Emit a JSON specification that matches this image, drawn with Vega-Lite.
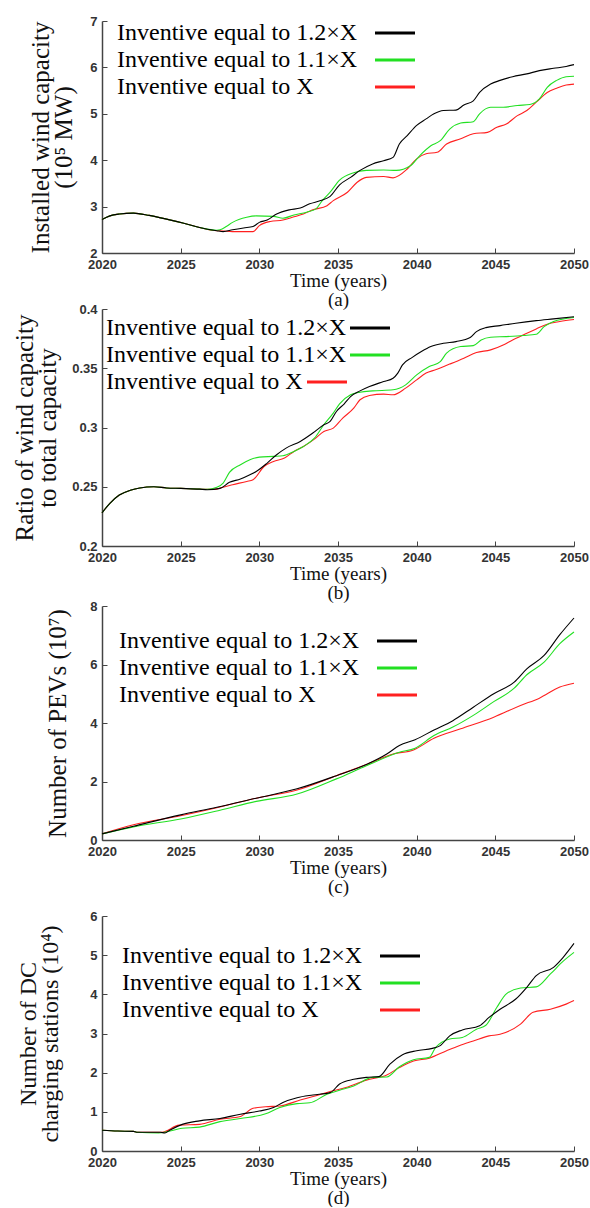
{
  "$schema": "https://vega.github.io/schema/vega-lite/v6.json",
  "padding": {"left": 12, "top": 15, "right": 0, "bottom": 0},
  "spacing": -2,
  "resolve": {"scale": {"color": "independent", "x": "independent", "y": "independent"}, "legend": {"color": "independent"}},
  "vconcat": [
    {
      "spacing": -12,
      "resolve": {"scale": {"color": "independent", "x": "independent", "y": "independent"}, "legend": {"color": "independent"}},
      "vconcat": [
        {
          "width": 472,
          "height": 232,
          "data": {"values": [
            {"s":"X","t":2020,"v":2.72},{"s":"X","t":2020.5,"v":2.80},{"s":"X","t":2021.1,"v":2.84},{"s":"X","t":2022,"v":2.86},{"s":"X","t":2023,"v":2.81},{"s":"X","t":2024.1,"v":2.73},{"s":"X","t":2025.2,"v":2.64},{"s":"X","t":2026.2,"v":2.55},{"s":"X","t":2027.3,"v":2.48},
            {"s":"X","t":2027.5,"v":2.48},{"s":"X","t":2028.3,"v":2.46},{"s":"X","t":2029.6,"v":2.46},{"s":"X","t":2030,"v":2.59},{"s":"X","t":2030.7,"v":2.68},{"s":"X","t":2031.5,"v":2.71},{"s":"X","t":2032.2,"v":2.78},{"s":"X","t":2032.8,"v":2.84},{"s":"X","t":2033.4,"v":2.93},{"s":"X","t":2034.3,"v":3.02},{"s":"X","t":2034.7,"v":3.13},{"s":"X","t":2035.6,"v":3.31},{"s":"X","t":2036.2,"v":3.52},{"s":"X","t":2036.8,"v":3.63},{"s":"X","t":2037.9,"v":3.65},{"s":"X","t":2038.5,"v":3.62},{"s":"X","t":2039.4,"v":3.81},{"s":"X","t":2040,"v":4.03},{"s":"X","t":2040.6,"v":4.14},{"s":"X","t":2041.3,"v":4.17},{"s":"X","t":2041.9,"v":4.35},{"s":"X","t":2042.8,"v":4.46},{"s":"X","t":2043.6,"v":4.57},{"s":"X","t":2044.5,"v":4.60},{"s":"X","t":2045.1,"v":4.71},{"s":"X","t":2045.7,"v":4.78},{"s":"X","t":2046.4,"v":4.96},{"s":"X","t":2047,"v":5.07},{"s":"X","t":2047.6,"v":5.25},{"s":"X","t":2048.3,"v":5.46},{"s":"X","t":2048.9,"v":5.55},{"s":"X","t":2049.5,"v":5.62},{"s":"X","t":2050,"v":5.64},
            {"s":"1.1×X","t":2020,"v":2.72},{"s":"1.1×X","t":2020.5,"v":2.80},{"s":"1.1×X","t":2021.1,"v":2.84},{"s":"1.1×X","t":2022,"v":2.86},{"s":"1.1×X","t":2023,"v":2.81},{"s":"1.1×X","t":2024.1,"v":2.73},{"s":"1.1×X","t":2025.2,"v":2.64},{"s":"1.1×X","t":2026.2,"v":2.55},{"s":"1.1×X","t":2027.3,"v":2.49},
            {"s":"1.1×X","t":2027.5,"v":2.50},{"s":"1.1×X","t":2027.9,"v":2.57},{"s":"1.1×X","t":2028.3,"v":2.66},{"s":"1.1×X","t":2029.2,"v":2.77},{"s":"1.1×X","t":2029.8,"v":2.80},{"s":"1.1×X","t":2030.9,"v":2.79},{"s":"1.1×X","t":2031.5,"v":2.75},{"s":"1.1×X","t":2032.2,"v":2.82},{"s":"1.1×X","t":2033,"v":2.88},{"s":"1.1×X","t":2033.6,"v":2.95},{"s":"1.1×X","t":2034,"v":3.13},{"s":"1.1×X","t":2034.5,"v":3.31},{"s":"1.1×X","t":2035.1,"v":3.57},{"s":"1.1×X","t":2036,"v":3.73},{"s":"1.1×X","t":2036.8,"v":3.78},{"s":"1.1×X","t":2037.9,"v":3.79},{"s":"1.1×X","t":2038.7,"v":3.78},{"s":"1.1×X","t":2039.6,"v":3.88},{"s":"1.1×X","t":2040.2,"v":4.10},{"s":"1.1×X","t":2040.9,"v":4.31},{"s":"1.1×X","t":2041.5,"v":4.42},{"s":"1.1×X","t":2042.1,"v":4.67},{"s":"1.1×X","t":2042.8,"v":4.80},{"s":"1.1×X","t":2043.6,"v":4.83},{"s":"1.1×X","t":2044,"v":5.00},{"s":"1.1×X","t":2044.7,"v":5.14},{"s":"1.1×X","t":2045.5,"v":5.14},{"s":"1.1×X","t":2046.4,"v":5.18},{"s":"1.1×X","t":2047.2,"v":5.20},{"s":"1.1×X","t":2047.8,"v":5.32},{"s":"1.1×X","t":2048.3,"v":5.57},{"s":"1.1×X","t":2048.9,"v":5.72},{"s":"1.1×X","t":2049.5,"v":5.80},{"s":"1.1×X","t":2050,"v":5.81},
            {"s":"1.2×X","t":2020,"v":2.72},{"s":"1.2×X","t":2020.5,"v":2.80},{"s":"1.2×X","t":2021.1,"v":2.84},{"s":"1.2×X","t":2022,"v":2.86},{"s":"1.2×X","t":2023,"v":2.81},{"s":"1.2×X","t":2024.1,"v":2.73},{"s":"1.2×X","t":2025.2,"v":2.64},{"s":"1.2×X","t":2026.2,"v":2.55},{"s":"1.2×X","t":2027.3,"v":2.48},{"s":"1.2×X","t":2027.7,"v":2.46},{"s":"1.2×X","t":2028.3,"v":2.50},{"s":"1.2×X","t":2029,"v":2.54},{"s":"1.2×X","t":2029.6,"v":2.57},{"s":"1.2×X","t":2030,"v":2.66},{"s":"1.2×X","t":2030.5,"v":2.71},{"s":"1.2×X","t":2031.1,"v":2.84},{"s":"1.2×X","t":2031.9,"v":2.93},{"s":"1.2×X","t":2032.6,"v":2.97},{"s":"1.2×X","t":2033.2,"v":3.06},{"s":"1.2×X","t":2033.9,"v":3.13},{"s":"1.2×X","t":2034.5,"v":3.22},{"s":"1.2×X","t":2035.1,"v":3.47},{"s":"1.2×X","t":2035.8,"v":3.63},{"s":"1.2×X","t":2036.4,"v":3.78},{"s":"1.2×X","t":2037.2,"v":3.92},{"s":"1.2×X","t":2037.9,"v":3.99},{"s":"1.2×X","t":2038.5,"v":4.06},{"s":"1.2×X","t":2038.9,"v":4.35},{"s":"1.2×X","t":2039.4,"v":4.53},{"s":"1.2×X","t":2040,"v":4.75},{"s":"1.2×X","t":2040.6,"v":4.89},{"s":"1.2×X","t":2041.1,"v":5.00},{"s":"1.2×X","t":2041.7,"v":5.07},{"s":"1.2×X","t":2042.5,"v":5.08},{"s":"1.2×X","t":2043,"v":5.19},{"s":"1.2×X","t":2043.6,"v":5.28},{"s":"1.2×X","t":2044,"v":5.46},{"s":"1.2×X","t":2044.7,"v":5.64},{"s":"1.2×X","t":2045.3,"v":5.72},{"s":"1.2×X","t":2046.1,"v":5.80},{"s":"1.2×X","t":2047,"v":5.86},{"s":"1.2×X","t":2047.8,"v":5.93},{"s":"1.2×X","t":2048.7,"v":5.98},{"s":"1.2×X","t":2049.5,"v":6.02},{"s":"1.2×X","t":2050,"v":6.06}
          ]},
          "mark": {"type": "line", "strokeWidth": 1.1, "interpolate": "monotone"},
          "encoding": {
            "x": {"field": "t", "type": "quantitative", "scale": {"domain": [2020, 2050]}, "axis": {"values": [2020, 2025, 2030, 2035, 2040, 2045, 2050], "format": "d", "title": ["Time (years)", "(a)"]}},
            "y": {"field": "v", "type": "quantitative", "scale": {"domain": [2, 7]}, "axis": {"values": [2, 3, 4, 5, 6, 7], "title": ["Installed wind capacity", "(10⁵ MW)"], "titlePadding": 13, "titleLineHeight": 23}},
            "color": {
              "field": "s", "type": "nominal",
              "scale": {"domain": ["1.2×X", "1.1×X", "X"], "range": ["#000000", "#22e022", "#ff2020"]},
              "legend": {"title": null, "legendX": 0, "legendY": 0, "labelOffset": -290, "symbolOffset": 281, "labelFont": "Liberation Serif", "labelFontSize": 24, "labelExpr": "'Inventive equal to ' + datum.label",
                "encode": {"symbols": {"update": {"stroke": {"signal": "datum.value === '1.2×X' ? '#000000' : datum.value === '1.1×X' ? '#a6dc1f' : '#ff2020'"}}}}}
            }
          }
        },
        {
          "width": 472,
          "height": 237,
          "data": {"values": [
            {"s":"X","t":2020,"v":0.228},{"s":"X","t":2020.5,"v":0.236},{"s":"X","t":2021.1,"v":0.243},{"s":"X","t":2021.8,"v":0.247},{"s":"X","t":2022.4,"v":0.249},{"s":"X","t":2023.3,"v":0.250},{"s":"X","t":2024.1,"v":0.249},{"s":"X","t":2025,"v":0.2486},{"s":"X","t":2026.2,"v":0.248},{"s":"X","t":2026.7,"v":0.2478},{"s":"X","t":2027.3,"v":0.248},
            {"s":"X","t":2027.5,"v":0.2489},{"s":"X","t":2028.3,"v":0.2517},{"s":"X","t":2029.2,"v":0.2545},{"s":"X","t":2029.6,"v":0.2559},{"s":"X","t":2030.3,"v":0.2671},{"s":"X","t":2030.9,"v":0.2714},{"s":"X","t":2031.6,"v":0.2742},{"s":"X","t":2032.2,"v":0.2798},{"s":"X","t":2032.8,"v":0.2840},{"s":"X","t":2033.5,"v":0.2902},{"s":"X","t":2034.1,"v":0.2967},{"s":"X","t":2034.7,"v":0.2995},{"s":"X","t":2035.3,"v":0.3079},{"s":"X","t":2036,"v":0.3163},{"s":"X","t":2036.4,"v":0.3234},{"s":"X","t":2037,"v":0.3270},{"s":"X","t":2037.9,"v":0.3282},{"s":"X","t":2038.5,"v":0.3276},{"s":"X","t":2039.3,"v":0.3332},{"s":"X","t":2040,"v":0.3402},{"s":"X","t":2040.6,"v":0.3459},{"s":"X","t":2041.2,"v":0.3487},{"s":"X","t":2042.1,"v":0.3535},{"s":"X","t":2043,"v":0.3585},{"s":"X","t":2043.8,"v":0.3633},{"s":"X","t":2044.7,"v":0.3655},{"s":"X","t":2045.5,"v":0.3697},{"s":"X","t":2046.1,"v":0.3739},{"s":"X","t":2046.8,"v":0.3782},{"s":"X","t":2047.6,"v":0.3832},{"s":"X","t":2048.3,"v":0.3872},{"s":"X","t":2049.1,"v":0.3894},{"s":"X","t":2050,"v":0.3911},
            {"s":"1.1×X","t":2020,"v":0.228},{"s":"1.1×X","t":2020.5,"v":0.236},{"s":"1.1×X","t":2021.1,"v":0.243},{"s":"1.1×X","t":2021.8,"v":0.247},{"s":"1.1×X","t":2022.4,"v":0.249},{"s":"1.1×X","t":2023.3,"v":0.250},{"s":"1.1×X","t":2024.1,"v":0.249},{"s":"1.1×X","t":2025,"v":0.2486},{"s":"1.1×X","t":2026.2,"v":0.248},{"s":"1.1×X","t":2026.7,"v":0.2478},{"s":"1.1×X","t":2027.3,"v":0.2495},
            {"s":"1.1×X","t":2027.7,"v":0.2531},{"s":"1.1×X","t":2028.1,"v":0.2621},{"s":"1.1×X","t":2028.8,"v":0.2686},{"s":"1.1×X","t":2029.4,"v":0.2728},{"s":"1.1×X","t":2030,"v":0.2750},{"s":"1.1×X","t":2030.9,"v":0.2756},{"s":"1.1×X","t":2031.5,"v":0.2761},{"s":"1.1×X","t":2032.2,"v":0.2798},{"s":"1.1×X","t":2032.8,"v":0.2840},{"s":"1.1×X","t":2033.5,"v":0.2910},{"s":"1.1×X","t":2034.1,"v":0.3023},{"s":"1.1×X","t":2034.7,"v":0.3121},{"s":"1.1×X","t":2035.1,"v":0.3200},{"s":"1.1×X","t":2035.8,"v":0.3276},{"s":"1.1×X","t":2036.4,"v":0.3298},{"s":"1.1×X","t":2037.2,"v":0.3309},{"s":"1.1×X","t":2038.5,"v":0.3318},{"s":"1.1×X","t":2039.3,"v":0.3360},{"s":"1.1×X","t":2040,"v":0.3444},{"s":"1.1×X","t":2040.8,"v":0.3514},{"s":"1.1×X","t":2041.5,"v":0.3556},{"s":"1.1×X","t":2041.9,"v":0.3627},{"s":"1.1×X","t":2042.8,"v":0.3683},{"s":"1.1×X","t":2043.6,"v":0.3691},{"s":"1.1×X","t":2044.1,"v":0.3739},{"s":"1.1×X","t":2044.7,"v":0.3762},{"s":"1.1×X","t":2045.7,"v":0.3767},{"s":"1.1×X","t":2046.8,"v":0.3776},{"s":"1.1×X","t":2047.6,"v":0.3787},{"s":"1.1×X","t":2048.1,"v":0.3851},{"s":"1.1×X","t":2048.7,"v":0.3894},{"s":"1.1×X","t":2050,"v":0.3928},
            {"s":"1.2×X","t":2020,"v":0.228},{"s":"1.2×X","t":2020.5,"v":0.236},{"s":"1.2×X","t":2021.1,"v":0.243},{"s":"1.2×X","t":2021.8,"v":0.247},{"s":"1.2×X","t":2022.4,"v":0.249},{"s":"1.2×X","t":2023.3,"v":0.250},{"s":"1.2×X","t":2024.1,"v":0.249},{"s":"1.2×X","t":2025,"v":0.2486},{"s":"1.2×X","t":2026.2,"v":0.248},{"s":"1.2×X","t":2026.7,"v":0.2475},{"s":"1.2×X","t":2027.5,"v":0.2486},{"s":"1.2×X","t":2028.1,"v":0.2537},{"s":"1.2×X","t":2028.8,"v":0.2565},{"s":"1.2×X","t":2029.4,"v":0.2601},{"s":"1.2×X","t":2029.8,"v":0.2629},{"s":"1.2×X","t":2030.5,"v":0.2700},{"s":"1.2×X","t":2031.1,"v":0.2770},{"s":"1.2×X","t":2031.7,"v":0.2826},{"s":"1.2×X","t":2032.6,"v":0.2882},{"s":"1.2×X","t":2033.4,"v":0.2953},{"s":"1.2×X","t":2034.1,"v":0.3023},{"s":"1.2×X","t":2034.5,"v":0.3051},{"s":"1.2×X","t":2034.9,"v":0.3135},{"s":"1.2×X","t":2035.4,"v":0.3200},{"s":"1.2×X","t":2035.8,"v":0.3261},{"s":"1.2×X","t":2036.4,"v":0.3309},{"s":"1.2×X","t":2037,"v":0.3346},{"s":"1.2×X","t":2037.9,"v":0.3388},{"s":"1.2×X","t":2038.5,"v":0.3416},{"s":"1.2×X","t":2038.8,"v":0.3459},{"s":"1.2×X","t":2039.1,"v":0.3529},{"s":"1.2×X","t":2039.7,"v":0.3590},{"s":"1.2×X","t":2040.3,"v":0.3641},{"s":"1.2×X","t":2040.9,"v":0.3683},{"s":"1.2×X","t":2041.7,"v":0.3711},{"s":"1.2×X","t":2042.5,"v":0.3725},{"s":"1.2×X","t":2043.4,"v":0.3759},{"s":"1.2×X","t":2043.8,"v":0.3809},{"s":"1.2×X","t":2044.4,"v":0.3843},{"s":"1.2×X","t":2045.3,"v":0.3860},{"s":"1.2×X","t":2046.3,"v":0.3880},{"s":"1.2×X","t":2047.6,"v":0.3902},{"s":"1.2×X","t":2048.7,"v":0.3917},{"s":"1.2×X","t":2050,"v":0.3935}
          ]},
          "mark": {"type": "line", "strokeWidth": 1.1, "interpolate": "monotone"},
          "encoding": {
            "x": {"field": "t", "type": "quantitative", "scale": {"domain": [2020, 2050]}, "axis": {"values": [2020, 2025, 2030, 2035, 2040, 2045, 2050], "format": "d", "title": ["Time (years)", "(b)"]}},
            "y": {"field": "v", "type": "quantitative", "scale": {"domain": [0.2, 0.4]}, "axis": {"values": [0.2, 0.25, 0.3, 0.35, 0.4], "format": ".2~f", "title": ["Ratio of wind capacity", "to total capacity"], "titlePadding": 11, "titleLineHeight": 23}},
            "color": {
              "field": "s", "type": "nominal",
              "scale": {"domain": ["1.2×X", "1.1×X", "X"], "range": ["#000000", "#22e022", "#ff2020"]},
              "legend": {"title": null, "legendX": 0, "legendY": 7, "labelOffset": -281, "symbolOffset": 261, "labelFont": "Liberation Serif", "labelFontSize": 24, "labelExpr": "'Inventive equal to ' + datum.label",
                "encode": {"symbols": {"update": {
                  "x": {"signal": "datum.value === 'X' ? 225 : 268"},
                  "stroke": {"signal": "datum.value === '1.2×X' ? '#000000' : datum.value === '1.1×X' ? '#a6dc1f' : '#ff2020'"}}}}}
            }
          }
        }
      ]
    },
    {
      "spacing": 14,
      "resolve": {"scale": {"color": "independent", "x": "independent", "y": "independent"}, "legend": {"color": "independent"}},
      "vconcat": [
        {
          "width": 472,
          "height": 234,
          "data": {"values": [
            {"s":"X","t":2020,"v":0.21},{"s":"X","t":2022,"v":0.52},{"s":"X","t":2025,"v":0.83},{"s":"X","t":2027.5,"v":1.13},{"s":"X","t":2029.8,"v":1.43},{"s":"X","t":2032.4,"v":1.71},{"s":"X","t":2034.9,"v":2.20},{"s":"X","t":2036.8,"v":2.58},{"s":"X","t":2038.5,"v":2.94},{"s":"X","t":2039.8,"v":3.08},{"s":"X","t":2041.1,"v":3.48},{"s":"X","t":2042.8,"v":3.80},{"s":"X","t":2044.9,"v":4.20},{"s":"X","t":2046.6,"v":4.60},{"s":"X","t":2047.8,"v":4.85},{"s":"X","t":2049.1,"v":5.23},{"s":"X","t":2050,"v":5.36},
            {"s":"1.1×X","t":2020,"v":0.21},{"s":"1.1×X","t":2022,"v":0.45},{"s":"1.1×X","t":2025,"v":0.72},{"s":"1.1×X","t":2027.5,"v":1.02},{"s":"1.1×X","t":2029.8,"v":1.32},{"s":"1.1×X","t":2032.4,"v":1.57},{"s":"1.1×X","t":2034.9,"v":2.09},{"s":"1.1×X","t":2036.8,"v":2.54},{"s":"1.1×X","t":2038.9,"v":3.00},{"s":"1.1×X","t":2039.9,"v":3.14},{"s":"1.1×X","t":2041.1,"v":3.57},{"s":"1.1×X","t":2042.3,"v":3.86},{"s":"1.1×X","t":2043.6,"v":4.26},{"s":"1.1×X","t":2044.9,"v":4.73},{"s":"1.1×X","t":2046.2,"v":5.19},{"s":"1.1×X","t":2047,"v":5.65},{"s":"1.1×X","t":2048.1,"v":6.08},{"s":"1.1×X","t":2049.1,"v":6.71},{"s":"1.1×X","t":2050,"v":7.11},
            {"s":"1.2×X","t":2020,"v":0.21},{"s":"1.2×X","t":2022,"v":0.47},{"s":"1.2×X","t":2025,"v":0.86},{"s":"1.2×X","t":2027.3,"v":1.12},{"s":"1.2×X","t":2029.8,"v":1.43},{"s":"1.2×X","t":2032.4,"v":1.75},{"s":"1.2×X","t":2034.9,"v":2.20},{"s":"1.2×X","t":2036.8,"v":2.58},{"s":"1.2×X","t":2038.1,"v":2.94},{"s":"1.2×X","t":2038.9,"v":3.23},{"s":"1.2×X","t":2039.9,"v":3.43},{"s":"1.2×X","t":2041.1,"v":3.76},{"s":"1.2×X","t":2042.3,"v":4.08},{"s":"1.2×X","t":2043.6,"v":4.54},{"s":"1.2×X","t":2044.9,"v":5.00},{"s":"1.2×X","t":2046.2,"v":5.40},{"s":"1.2×X","t":2047,"v":5.85},{"s":"1.2×X","t":2048.1,"v":6.31},{"s":"1.2×X","t":2049.1,"v":7.02},{"s":"1.2×X","t":2050,"v":7.59}
          ]},
          "mark": {"type": "line", "strokeWidth": 1.1, "interpolate": "monotone"},
          "encoding": {
            "x": {"field": "t", "type": "quantitative", "scale": {"domain": [2020, 2050]}, "axis": {"values": [2020, 2025, 2030, 2035, 2040, 2045, 2050], "format": "d", "title": ["Time (years)", "(c)"]}},
            "y": {"field": "v", "type": "quantitative", "scale": {"domain": [0, 8]}, "axis": {"values": [0, 2, 4, 6, 8], "title": "Number of PEVs (10⁷)", "titlePadding": 19}},
            "color": {
              "field": "s", "type": "nominal",
              "scale": {"domain": ["1.2×X", "1.1×X", "X"], "range": ["#000000", "#22e022", "#ff2020"]},
              "legend": {"title": null, "legendX": 0, "legendY": 23, "labelOffset": -290, "symbolOffset": 283, "labelFont": "Liberation Serif", "labelFontSize": 24, "labelExpr": "'Inventive equal to ' + datum.label",
                "encode": {"symbols": {"update": {"stroke": {"signal": "datum.value === '1.2×X' ? '#000000' : datum.value === '1.1×X' ? '#a6dc1f' : '#ff2020'"}}}}}
            }
          }
        },
        {
          "width": 472,
          "height": 235,
          "data": {"values": [
            {"s":"X","t":2020,"v":0.53},{"s":"X","t":2021,"v":0.51},{"s":"X","t":2022,"v":0.50},{"s":"X","t":2022.2,"v":0.48},{"s":"X","t":2023.7,"v":0.48},
            {"s":"X","t":2023.8,"v":0.48},{"s":"X","t":2024.9,"v":0.66},{"s":"X","t":2026.2,"v":0.68},{"s":"X","t":2027.5,"v":0.81},{"s":"X","t":2028.8,"v":0.88},{"s":"X","t":2029.6,"v":1.09},{"s":"X","t":2030.4,"v":1.13},{"s":"X","t":2031.3,"v":1.15},{"s":"X","t":2032.6,"v":1.30},{"s":"X","t":2033.6,"v":1.41},{"s":"X","t":2034.5,"v":1.52},{"s":"X","t":2035.5,"v":1.62},{"s":"X","t":2036.8,"v":1.81},{"s":"X","t":2038.1,"v":1.94},{"s":"X","t":2038.9,"v":2.13},{"s":"X","t":2039.8,"v":2.30},{"s":"X","t":2040.8,"v":2.37},{"s":"X","t":2041.9,"v":2.56},{"s":"X","t":2042.7,"v":2.69},{"s":"X","t":2043.6,"v":2.81},{"s":"X","t":2044.6,"v":2.94},{"s":"X","t":2045.3,"v":2.98},{"s":"X","t":2046.6,"v":3.24},{"s":"X","t":2047.4,"v":3.54},{"s":"X","t":2048.5,"v":3.62},{"s":"X","t":2049.5,"v":3.75},{"s":"X","t":2050,"v":3.84},
            {"s":"1.1×X","t":2020,"v":0.53},{"s":"1.1×X","t":2021,"v":0.51},{"s":"1.1×X","t":2022,"v":0.50},{"s":"1.1×X","t":2022.2,"v":0.48},{"s":"1.1×X","t":2023.6,"v":0.46},
            {"s":"1.1×X","t":2025.1,"v":0.58},{"s":"1.1×X","t":2026.2,"v":0.61},{"s":"1.1×X","t":2027.5,"v":0.75},{"s":"1.1×X","t":2028.8,"v":0.83},{"s":"1.1×X","t":2030.4,"v":0.95},{"s":"1.1×X","t":2031.3,"v":1.11},{"s":"1.1×X","t":2032.4,"v":1.21},{"s":"1.1×X","t":2033.2,"v":1.23},{"s":"1.1×X","t":2034.3,"v":1.45},{"s":"1.1×X","t":2035.1,"v":1.55},{"s":"1.1×X","t":2036,"v":1.66},{"s":"1.1×X","t":2037.2,"v":1.88},{"s":"1.1×X","t":2038.1,"v":1.89},{"s":"1.1×X","t":2038.9,"v":2.15},{"s":"1.1×X","t":2039.8,"v":2.33},{"s":"1.1×X","t":2040.8,"v":2.39},{"s":"1.1×X","t":2041.2,"v":2.64},{"s":"1.1×X","t":2042.1,"v":2.86},{"s":"1.1×X","t":2042.9,"v":2.90},{"s":"1.1×X","t":2043.8,"v":3.11},{"s":"1.1×X","t":2044.4,"v":3.21},{"s":"1.1×X","t":2045.1,"v":3.67},{"s":"1.1×X","t":2045.7,"v":4.01},{"s":"1.1×X","t":2046.6,"v":4.16},{"s":"1.1×X","t":2047.6,"v":4.19},{"s":"1.1×X","t":2048.5,"v":4.52},{"s":"1.1×X","t":2049.3,"v":4.84},{"s":"1.1×X","t":2050,"v":5.07},
            {"s":"1.2×X","t":2020,"v":0.53},{"s":"1.2×X","t":2021,"v":0.51},{"s":"1.2×X","t":2022,"v":0.50},{"s":"1.2×X","t":2022.2,"v":0.48},{"s":"1.2×X","t":2023.7,"v":0.48},{"s":"1.2×X","t":2024,"v":0.46},{"s":"1.2×X","t":2024.3,"v":0.53},{"s":"1.2×X","t":2025.1,"v":0.68},{"s":"1.2×X","t":2026.2,"v":0.77},{"s":"1.2×X","t":2027.5,"v":0.83},{"s":"1.2×X","t":2028.8,"v":0.94},{"s":"1.2×X","t":2030,"v":1.02},{"s":"1.2×X","t":2030.9,"v":1.11},{"s":"1.2×X","t":2031.5,"v":1.24},{"s":"1.2×X","t":2032.4,"v":1.36},{"s":"1.2×X","t":2033.4,"v":1.43},{"s":"1.2×X","t":2034.5,"v":1.49},{"s":"1.2×X","t":2035.1,"v":1.71},{"s":"1.2×X","t":2036,"v":1.83},{"s":"1.2×X","t":2036.8,"v":1.88},{"s":"1.2×X","t":2037.6,"v":1.90},{"s":"1.2×X","t":2038.3,"v":2.22},{"s":"1.2×X","t":2039.1,"v":2.46},{"s":"1.2×X","t":2040,"v":2.56},{"s":"1.2×X","t":2041,"v":2.62},{"s":"1.2×X","t":2041.5,"v":2.69},{"s":"1.2×X","t":2042.1,"v":2.94},{"s":"1.2×X","t":2042.9,"v":3.09},{"s":"1.2×X","t":2044,"v":3.20},{"s":"1.2×X","t":2044.6,"v":3.41},{"s":"1.2×X","t":2045.3,"v":3.62},{"s":"1.2×X","t":2046.3,"v":3.88},{"s":"1.2×X","t":2047,"v":4.18},{"s":"1.2×X","t":2047.6,"v":4.48},{"s":"1.2×X","t":2048.7,"v":4.69},{"s":"1.2×X","t":2049.3,"v":4.94},{"s":"1.2×X","t":2050,"v":5.30}
          ]},
          "mark": {"type": "line", "strokeWidth": 1.1, "interpolate": "monotone"},
          "encoding": {
            "x": {"field": "t", "type": "quantitative", "scale": {"domain": [2020, 2050]}, "axis": {"values": [2020, 2025, 2030, 2035, 2040, 2045, 2050], "format": "d", "title": ["Time (years)", "(d)"]}},
            "y": {"field": "v", "type": "quantitative", "scale": {"domain": [0, 6]}, "axis": {"values": [0, 1, 2, 3, 4, 5, 6], "title": ["Number of DC", "charging stations (10⁴)"], "titleFontSize": 24, "titlePadding": 27, "titleLineHeight": 22}},
            "color": {
              "field": "s", "type": "nominal",
              "scale": {"domain": ["1.2×X", "1.1×X", "X"], "range": ["#000000", "#22e022", "#ff2020"]},
              "legend": {"title": null, "legendX": 0, "legendY": 28, "labelOffset": -290, "symbolOffset": 286, "labelFont": "Liberation Serif", "labelFontSize": 24, "labelExpr": "'Inventive equal to ' + datum.label",
                "encode": {"symbols": {"update": {"stroke": {"signal": "datum.value === '1.2×X' ? '#000000' : datum.value === '1.1×X' ? '#a6dc1f' : '#ff2020'"}}}}}
            }
          }
        }
      ]
    }
  ],
  "config": {
    "view": {"stroke": null},
    "font": "Liberation Serif",
    "axis": {
      "grid": false, "domainColor": "#444", "domainWidth": 1.5, "tickColor": "#444", "tickSize": -5, "tickWidth": 1,
      "labelFont": "Liberation Sans", "labelFontWeight": "bold", "labelFontSize": 13, "labelColor": "#333", "labelPadding": 10,
      "labelFlush": false, "labelOverlap": false,
      "titleFont": "Liberation Serif", "titleFontWeight": "normal", "titleColor": "#111"
    },
    "axisX": {"titleFontSize": 19, "titleLineHeight": 19, "titlePadding": 0},
    "axisY": {"titleFontSize": 25, "titleLineHeight": 23, "titlePadding": 4},
    "legend": {
      "orient": "none", "direction": "vertical", "padding": 0,
      "labelFont": "Liberation Serif", "labelFontSize": 24, "labelColor": "#000", "labelLimit": 400,
      "rowPadding": 3, "symbolType": "M-4,0H4", "symbolSize": 100, "symbolStrokeWidth": 3
    }
  }
}
